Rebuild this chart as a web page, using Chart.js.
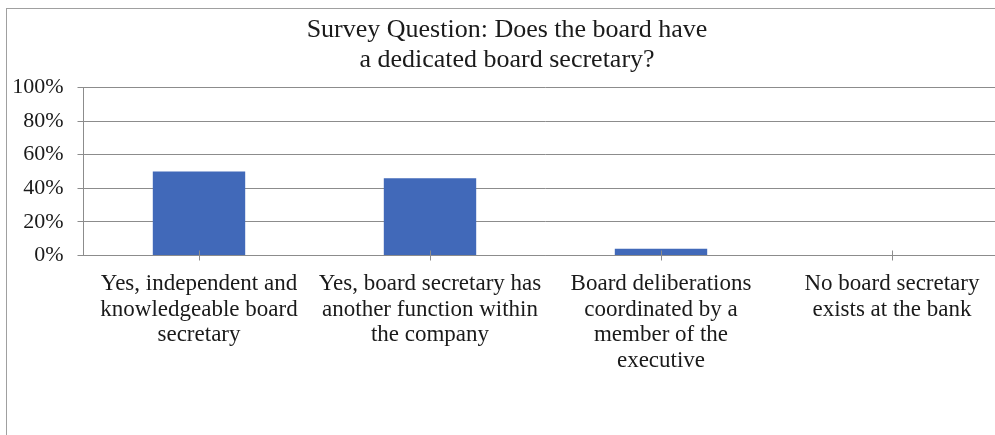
<!DOCTYPE html>
<html>
<head>
<meta charset="utf-8">
<script src="https://cdn.jsdelivr.net/npm/chart.js@4/dist/chart.umd.min.js"></script>
<style>
  html, body { margin: 0; padding: 0; background: #fff; overflow: hidden; width: 995px; height: 435px; }
  #frame { position: absolute; left: 6px; top: 8px; width: 1200px; height: 900px; border: 1px solid #a0a0a0; }
  #chart { position: absolute; left: 0; top: 0; }
</style>
</head>
<body>
<div id="frame"></div>
<canvas id="chart" width="1014" height="435"></canvas>
<script>
// Survey answers and share of respondents (%)
const categories = [
  ["Yes, independent and", "knowledgeable board", "secretary"],
  ["Yes, board secretary has", "another function within", "the company"],
  ["Board deliberations", "coordinated by a", "member of the", "executive"],
  ["No board secretary", "exists at the bank"]
];
const shares = [50, 46, 4, 0];
const yTicks = [0, 20, 40, 60, 80, 100];
const titleLines = ["Survey Question: Does the board have", "a dedicated board secretary?"];

const serif = "'Liberation Serif', 'Times New Roman', serif";
const gridGray = '#8c8c8c';
const textColor = '#1a1a1a';

// Tick marks cross the category axis; draw the upper half over the bars
const crossTicks = {
  id: 'crossTicks',
  afterDatasetsDraw(chart) {
    const x = chart.scales.x;
    const ctx = chart.ctx;
    const bottom = chart.chartArea.bottom;
    ctx.save();
    ctx.strokeStyle = gridGray;
    ctx.lineWidth = 1;
    for (let i = 0; i < categories.length; i++) {
      const px = Math.round(x.getPixelForTick(i)) + 0.5;
      ctx.beginPath();
      ctx.moveTo(px, bottom - 5);
      ctx.lineTo(px, bottom);
      ctx.stroke();
    }
    ctx.restore();
  }
};

new Chart(document.getElementById('chart'), {
  type: 'bar',
  data: {
    labels: categories,
    datasets: [{
      data: shares,
      backgroundColor: '#4169b9',
      borderWidth: 0,
      categoryPercentage: 1,
      barPercentage: 0.4
    }]
  },
  options: {
    responsive: false,
    devicePixelRatio: 1,
    animation: false,
    layout: { padding: { left: 6.5, right: 6.5, top: 0, bottom: 0 } },
    plugins: {
      legend: { display: false },
      tooltip: { enabled: false },
      title: {
        display: true,
        text: titleLines,
        color: textColor,
        font: { family: serif, size: 26, weight: 'normal', lineHeight: 1.154 },
        padding: { top: 15, bottom: 12.5 }
      }
    },
    scales: {
      x: {
        afterFit(scale) { scale.height = 179.5; },
        grid: {
          display: true,
          drawOnChartArea: false,
          drawTicks: true,
          tickLength: 5,
          offset: false,
          color: gridGray
        },
        border: { display: true, color: gridGray, width: 1 },
        ticks: {
          color: textColor,
          padding: 11,
          maxRotation: 0,
          autoSkip: false,
          font: { family: serif, size: 23, lineHeight: 1.109 }
        }
      },
      y: {
        min: 0,
        max: 100,
        afterFit(scale) { scale.width = 77; },
        afterBuildTicks(scale) { scale.ticks = yTicks.map(v => ({ value: v })); },
        grid: { color: gridGray, tickLength: 6, lineWidth: 1 },
        border: { display: true, color: gridGray, width: 1 },
        ticks: {
          color: textColor,
          padding: 14,
          font: { family: serif, size: 22 },
          callback: v => v + '%'
        }
      }
    }
  },
  plugins: [crossTicks]
});
</script>
</body>
</html>
